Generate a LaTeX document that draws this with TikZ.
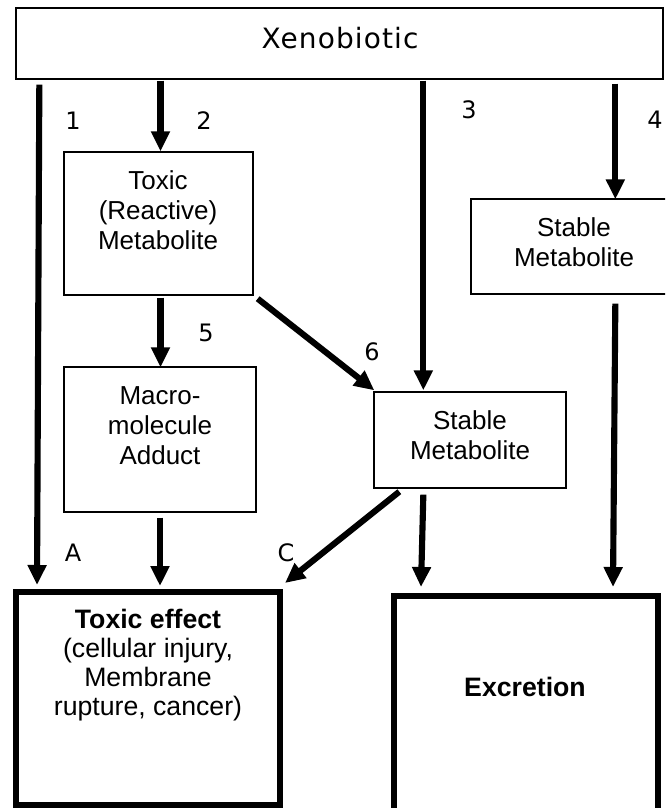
\documentclass[tikz,border=0pt]{standalone}
\usepackage{fontspec}
\setmainfont{Liberation Sans}
\newfontfamily\dvfont{DejaVu Sans}
\newfontfamily\dvwide{DejaVu Sans}[LetterSpace=4]
\usetikzlibrary{arrows.meta,calc}
\begin{document}
\begin{tikzpicture}[x=0.75pt,y=-0.75pt,
  pbox/.style 2 args={draw, line width=1pt, rectangle, inner sep=0pt, minimum width=#1*0.75pt, minimum height=#2*0.75pt},
  thick box/.style 2 args={draw, line width=4.5pt, rectangle, inner sep=0pt, minimum width=#1*0.75pt, minimum height=#2*0.75pt},
  arr/.style={line width=4.6pt, -{Triangle[width=13.5pt,length=15pt]}},
  num/.style={font=\dvfont\fontsize{18}{21}\selectfont, inner sep=0pt},
  txt/.style={font=\fontsize{19.5}{22.5}\selectfont, align=center, inner sep=0pt},
  bigtxt/.style={font=\fontsize{20}{21.75}\selectfont, align=center, inner sep=0pt}]
\useasboundingbox (0,0) rectangle (665,808);
\clip (0,0) rectangle (665,808);

% boxes
\node[pbox={647}{71}] (xeno) at (339.5,43.5) {};
\node[pbox={189}{143}] (toxic) at (158.5,223.5) {};
\node[pbox={199}{95}] (stabR) at (570.5,246.5) {};
\node[pbox={192}{145}] (macro) at (160,439.5) {};
\node[pbox={192}{96}] (stabM) at (470,440) {};
\node[thick box={264}{213}] (effect) at (148,698.5) {};
\node[thick box={264}{234}] (excr) at (526,713) {};

% texts
\node[font=\dvwide\fontsize{21}{25}\selectfont, inner sep=0pt] (txeno) at (340,38) {Xenobiotic};
\node[txt] (ttoxic) at (158,210) {Toxic\\(Reactive)\\Metabolite};
\node[txt] (tstabR) at (574,242) {Stable\\Metabolite};
\node[txt] (tmacro) at (160,426) {Macro-\\molecule\\Adduct};
\node[txt] (tstabM) at (470,435) {Stable\\Metabolite};
\node[bigtxt] (teffect) at (148,665) {\textbf{Toxic effect}\\(cellular injury,\\Membrane\\rupture, cancer)};
\node[bigtxt, font=\bfseries\fontsize{20}{21.75}\selectfont] (texcr) at (525,687) {Excretion};

% labels
\node[num] (l1) at (73,121) {1};
\node[num] (l2) at (204,121) {2};
\node[num] (l3) at (469,110) {3};
\node[num] (l4) at (655,120) {4};
\node[num] (l5) at (206,333) {5};
\node[num] (l6) at (372,352) {6};
\node[num] (lA) at (73,553) {A};
\node[num] (lC) at (286,553) {C};

% connectors
\draw[arr] ($(xeno.south west)+(24,5)$) -- ($(effect.north west)+(24,-4)$);
\draw[arr] ($(xeno.south -| toxic.north)+(2,1)$) -- ($(toxic.north)+(2,0)$);
\draw[arr] ($(xeno.south -| stabM.north west)+(50,1)$) -- ($(stabM.north west)+(50,-1)$);
\draw[arr] ($(xeno.south -| stabR.north west)+(145,4)$) -- ($(stabR.north west)+(145,1)$);
\draw[arr] ($(toxic.south)+(2,2)$) -- ($(macro.north)+(0.5,1)$);
\draw[arr] ($(toxic.south east)+(4,3)$) -- ($(stabM.north west)+(1,-1)$);
\draw[arr] ($(macro.south)+(0,5)$) -- ($(effect.north)+(12,-3)$);
\draw[arr] ($(stabM.south west)+(26,3)$) -- ($(effect.north east)+(2,-6)$);
\draw[arr] ($(stabM.south west)+(50,6)$) -- ($(excr.north west)+(30,-6)$);
\draw[arr] ($(stabR.south west)+(145,9)$) -- ($(excr.north west)+(222,-6)$);
\end{tikzpicture}
\end{document}
